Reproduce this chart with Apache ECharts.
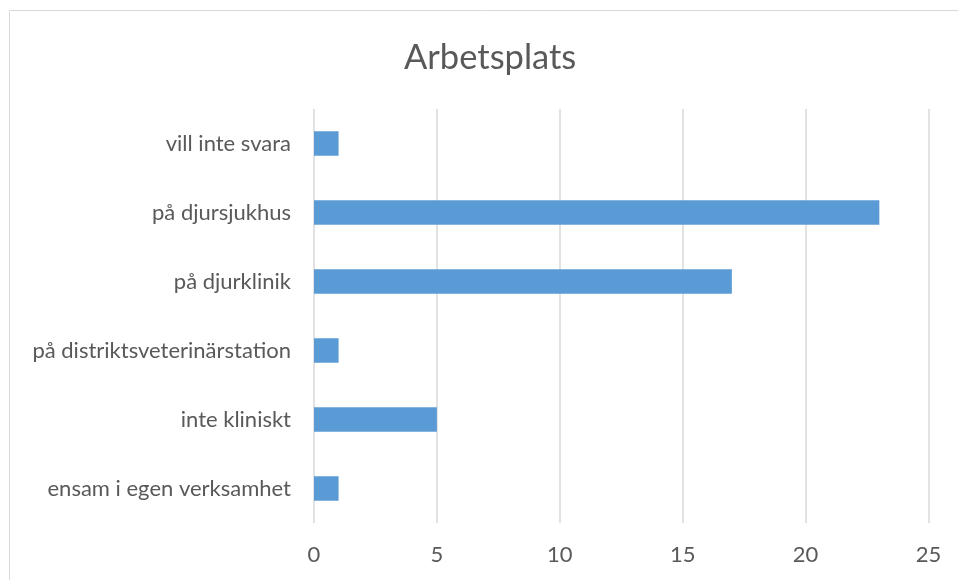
<!DOCTYPE html>
<html><head><meta charset="utf-8">
<script src="https://cdn.jsdelivr.net/npm/echarts@6/dist/echarts.min.js"></script>
<style>html,body{margin:0;padding:0;background:#fff}#c{width:958px;height:580px}</style>
</head><body><div id="c"></div>
<script>
const categories = ["ensam i egen verksamhet","inte kliniskt","på distriktsveterinärstation","på djurklinik","på djursjukhus","vill inte svara"];
const values = [1,5,1,17,23,1];
const xTicks = [0,5,10,15,20,25];
const chart = echarts.init(document.getElementById('c'), null, {renderer:'canvas'});
const font = "Lato, 'Open Sans', sans-serif";
chart.setOption({
  animation:false,
  backgroundColor:'#fff',
  graphic:[{type:'rect',shape:{x:9.5,y:10.5,width:960,height:580},style:{fill:'none',stroke:'#d9d9d9',lineWidth:1}}],
  title:{text:'Arbetsplats',left:399,top:35,textStyle:{fontFamily:font,fontSize:34.5,fontWeight:'normal',color:'#595959'}},
  grid:{left:314,right:29.5,top:109,bottom:57,containLabel:false},
  xAxis:{type:'value',min:0,max:25,interval:5,
    axisLine:{show:false},axisTick:{show:false},
    splitLine:{lineStyle:{color:'#d9d9d9',width:1.5}},
    axisLabel:{fontFamily:font,fontSize:22,color:'#595959',margin:21,formatter:v=>xTicks.includes(v)?String(v):''}},
  yAxis:{type:'category',data:categories,
    axisLine:{show:false},axisTick:{show:false},
    axisLabel:{fontFamily:font,fontSize:22,color:'#595959',margin:23}},
  series:[{type:'bar',data:values,barWidth:24.5,itemStyle:{color:'#5b9bd5'}}]
});
</script></body></html>
